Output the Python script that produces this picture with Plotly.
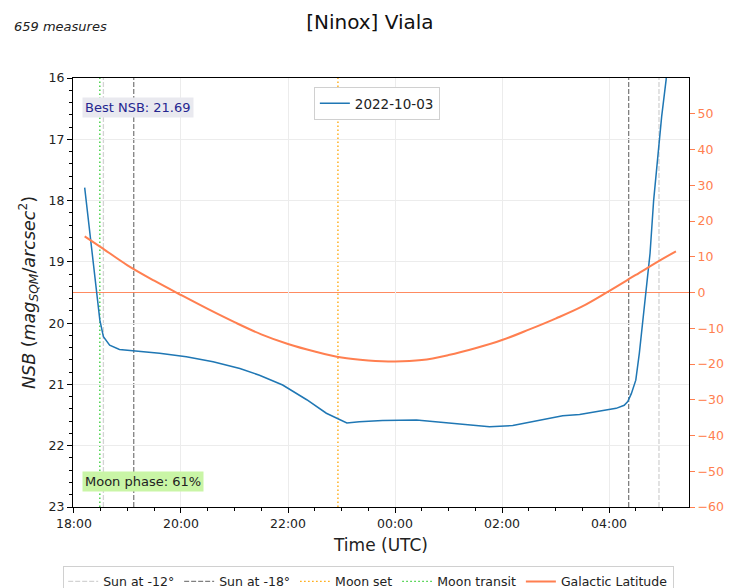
import plotly.graph_objects as go

FONT = "DejaVu Sans"

# ---- data ----
nsb_times = [
    "2022-10-03 18:12", "2022-10-03 18:21", "2022-10-03 18:25", "2022-10-03 18:29",
    "2022-10-03 18:33", "2022-10-03 18:40", "2022-10-03 18:51", "2022-10-03 19:06",
    "2022-10-03 19:36", "2022-10-03 20:06", "2022-10-03 20:36", "2022-10-03 21:06",
    "2022-10-03 21:28", "2022-10-03 21:54", "2022-10-03 22:21", "2022-10-03 22:43",
    "2022-10-03 23:06", "2022-10-03 23:20", "2022-10-03 23:46", "2022-10-04 00:24",
    "2022-10-04 01:01", "2022-10-04 01:46", "2022-10-04 02:12", "2022-10-04 02:45",
    "2022-10-04 03:08", "2022-10-04 03:27", "2022-10-04 03:50", "2022-10-04 04:08",
    "2022-10-04 04:17", "2022-10-04 04:21", "2022-10-04 04:25", "2022-10-04 04:30",
    "2022-10-04 04:34", "2022-10-04 04:38", "2022-10-04 04:42", "2022-10-04 04:46",
    "2022-10-04 04:50", "2022-10-04 04:54", "2022-10-04 04:59", "2022-10-04 05:04",
    "2022-10-04 05:08",
]
nsb_values = [
    17.79, 18.89, 19.40, 19.95,
    20.22, 20.36, 20.43, 20.45,
    20.49, 20.55, 20.63, 20.74,
    20.85, 21.01, 21.25, 21.47,
    21.63, 21.61, 21.59, 21.58,
    21.63, 21.69, 21.67, 21.58,
    21.51, 21.49, 21.44, 21.39,
    21.34, 21.28, 21.15, 20.93,
    20.49, 19.95, 19.51, 18.86,
    18.00, 17.34, 16.63, 16.03,
    15.40,
]

gal_times = [
    "2022-10-03 18:12", "2022-10-03 18:30", "2022-10-03 19:00", "2022-10-03 19:30",
    "2022-10-03 20:00", "2022-10-03 20:30", "2022-10-03 21:00", "2022-10-03 21:30",
    "2022-10-03 22:00", "2022-10-03 22:30", "2022-10-03 23:00", "2022-10-03 23:30",
    "2022-10-04 00:00", "2022-10-04 00:30", "2022-10-04 01:00", "2022-10-04 01:30",
    "2022-10-04 02:00", "2022-10-04 02:30", "2022-10-04 03:00", "2022-10-04 03:30",
    "2022-10-04 04:00", "2022-10-04 04:30", "2022-10-04 05:00", "2022-10-04 05:15",
]
gal_values = [
    15.7, 12.7, 7.6, 3.3,
    -0.7, -4.6, -8.3, -11.7,
    -14.4, -16.5, -18.2, -19.0,
    -19.3, -18.9, -17.5, -15.6,
    -13.3, -10.4, -7.3, -3.9,
    0.4, 4.9, 9.4, 11.5,
]
gal_zero = 0

sun12_times = ["2022-10-03 18:33", "2022-10-04 04:56"]
sun18_times = ["2022-10-03 19:07", "2022-10-04 04:22"]
moonset_times = ["2022-10-03 22:56"]
moontransit_times = ["2022-10-03 18:29"]

x_range = ["2022-10-03 17:58:54", "2022-10-04 05:29:40"]
nsb_range = [23, 16]
gal_range = [-60, 60]
gal_ticks = [-60, -50, -40, -30, -20, -10, 0, 10, 20, 30, 40, 50]

title_text = "[Ninox] Viala"
measures_text = "659 measures"
best_text = "Best NSB: 21.69"
phase_text = "Moon phase: 61%"
date_label = "2022-10-03"

# ---- figure ----
fig = go.Figure()

fig.add_trace(go.Scatter(
    x=nsb_times, y=nsb_values, mode="lines", name=date_label,
    line=dict(color="#1f77b4", width=1.5), legend="legend",
))
fig.add_trace(go.Scatter(
    x=gal_times, y=gal_values, mode="lines", name="Galactic Latitude",
    line=dict(color="#ff7f50", width=2, shape="spline", smoothing=1.0),
    yaxis="y2", legend="legend2", legendrank=5,
))

events = [
    ("Sun at -12°", sun12_times, "#d3d3d3", "5px,2px", 1),
    ("Sun at -18°", sun18_times, "#808080", "5px,2px", 2),
    ("Moon set", moonset_times, "#ffa500", "1.5px,2.5px", 3),
    ("Moon transit", moontransit_times, "#32cd32", "1.5px,2.5px", 4),
]
for label, times, color, dash, rank in events:
    for i, t in enumerate(times):
        fig.add_shape(
            type="line", xref="x", yref="paper", x0=t, x1=t, y0=0, y1=1,
            line=dict(color=color, dash=dash, width=1.3), layer="between",
            name=label, showlegend=(i == 0), legend="legend2",
            legendgroup=label, legendrank=rank,
        )

fig.add_shape(
    type="line", xref="paper", yref="y2", x0=0, x1=1, y0=gal_zero, y1=gal_zero,
    line=dict(color="#ff7f50", width=1), opacity=0.9, layer="between",
)

fig.add_annotation(
    xref="paper", yref="paper", x=0.014, y=0.932, xanchor="left", yanchor="middle",
    text=best_text, showarrow=False, bgcolor="#e9e9ef", borderpad=2,
    font=dict(family=FONT, size=13, color="#262690"),
)
fig.add_annotation(
    xref="paper", yref="paper", x=0.014, y=0.06, xanchor="left", yanchor="middle",
    text=phase_text, showarrow=False, bgcolor="#c9f5a6", borderpad=2,
    font=dict(family=FONT, size=13, color="#222222"),
)
fig.add_annotation(
    xref="paper", yref="paper", x=-0.099, y=1.121, xanchor="left", yanchor="middle",
    text="<i>" + measures_text + "</i>", showarrow=False,
    font=dict(family=FONT, size=13, color="#222222"),
)

fig.update_layout(
    width=731, height=588,
    margin=dict(l=73, r=42, t=78, b=81, autoexpand=False),
    paper_bgcolor="white", plot_bgcolor="white",
    font=dict(family=FONT, size=12.5, color="#222222"),
    title=dict(text=title_text, x=0.506, xref="container", y=0.963, yref="container",
               xanchor="center", yanchor="middle",
               font=dict(family=FONT, size=20, color="#111111")),
    xaxis=dict(
        type="date", range=x_range, tick0="2022-10-03 18:00", dtick=7200000,
        tickformat="%H:%M", ticks="outside", ticklen=5, tickcolor="black",
        showline=True, linecolor="black", linewidth=1.3, mirror=True,
        showgrid=True, gridcolor="#ececec", gridwidth=1, zeroline=False,
        minor=dict(dtick=1800000, ticks="outside", ticklen=3, tickcolor="black", showgrid=False),
        tickfont=dict(size=12.5),
        title=dict(text="Time (UTC)", font=dict(size=17), standoff=8),
    ),
    yaxis=dict(
        range=nsb_range, dtick=1, ticks="outside", ticklen=5, tickcolor="black",
        showline=True, linecolor="black", linewidth=1.3, mirror=True,
        showgrid=True, gridcolor="#ececec", gridwidth=1, zeroline=False,
        minor=dict(dtick=0.2, ticks="outside", ticklen=3, tickcolor="black", showgrid=False),
        tickfont=dict(size=12.5),
        title=dict(text="<i>NSB</i> (<i>mag</i><sub><i>SQM</i></sub>/<i>arcsec</i><sup>2</sup>)",
                   font=dict(size=17.5), standoff=8),
    ),
    yaxis2=dict(
        overlaying="y", side="right", range=gal_range, tickvals=gal_ticks,
        ticks="outside", ticklen=5, tickcolor="#ff7f50", showgrid=False, zeroline=False,
        showline=False, tickfont=dict(size=12.5, color="#ff7f50"),
    ),
    legend=dict(
        x=0.391, y=0.979, xanchor="left", yanchor="top",
        bgcolor="white", bordercolor="#d0d0d0", borderwidth=1,
        font=dict(family=FONT, size=13.5, color="#222222"),
    ),
    legend2=dict(
        orientation="h", x=0.48, y=-0.137, xanchor="center", yanchor="top",
        xref="paper", yref="paper",
        bgcolor="white", bordercolor="#d0d0d0", borderwidth=1,
        font=dict(family=FONT, size=12.5, color="#222222"),
        itemwidth=30, tracegroupgap=0,
    ),
    showlegend=True,
)

fig.write_html("out.html")
